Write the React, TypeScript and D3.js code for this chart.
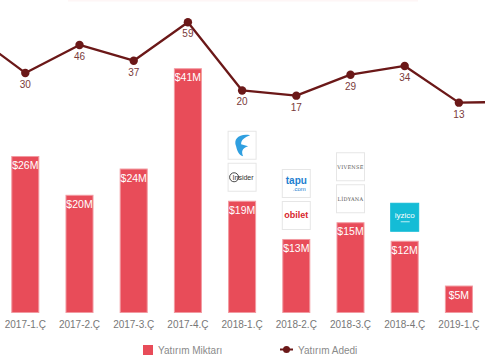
import React from "react";
import * as d3 from "d3";

const quarters = ["2017-1.Ç", "2017-2.Ç", "2017-3.Ç", "2017-4.Ç", "2018-1.Ç", "2018-2.Ç", "2018-3.Ç", "2018-4.Ç", "2019-1.Ç"];
const amounts = [26.3, 19.8, 24.2, 41.0, 18.8, 12.4, 15.2, 12.1, 4.6];
const amountLabels = ["$26M", "$20M", "$24M", "$41M", "$19M", "$13M", "$15M", "$12M", "$5M"];
const counts = [30, 46, 37, 59, 20, 17, 29, 34, 13];
// line continues beyond the visible area on both sides
const countBefore = 53;
const countAfter = 13.5;
const logos: { q: string; names: string[] }[] = [
  { q: "2018-1.Ç", names: ["F", "Insider"] },
  { q: "2018-2.Ç", names: ["tapu", "obilet"] },
  { q: "2018-3.Ç", names: ["VIVENSE", "LİDYANA"] },
  { q: "2018-4.Ç", names: ["iyzico"] },
];
const legendLabels = ["Yatırım Miktarı", "Yatırım Adedi"];

const W = 485;
const H = 360;
const FONT = "'Liberation Sans', Arial, Helvetica, sans-serif";
const BAR = "#e84c59";
const LINE = "#6b1818";

function Logo({ name, x, y, s }: { name: string; x: number; y: number; s: number }) {
  const cx = x + s / 2;
  const cy = y + s / 2;
  let content: React.ReactNode = null;
  let fill = "#fff";
  let stroke = "#e6e6e6";
  if (name === "F") {
    content = (
      <path
        d={`M${cx + 8},${cy - 10} C${cx - 3},${cy - 12} ${cx - 9},${cy - 6} ${cx - 6},${cy + 1} C${cx - 5},${cy + 6} ${cx - 3},${cy + 10} ${cx + 1},${cy + 11} C${cx - 1},${cy + 6} ${cx},${cy + 3} ${cx + 6},${cy + 1} L${cx - 1},${cy - 1} C${cx - 1},${cy - 6} ${cx + 3},${cy - 8} ${cx + 8},${cy - 10} Z`}
        fill="#2f9fe0"
      />
    );
  } else if (name === "Insider") {
    content = (
      <g>
        <circle cx={cx - 8} cy={cy} r={4.5} fill="none" stroke="#333" strokeWidth={0.9} />
        <text x={cx + 1} y={cy + 2.5} fontSize={7} fill="#333" textAnchor="middle" fontFamily={FONT}>
          Insider
        </text>
      </g>
    );
  } else if (name === "tapu") {
    content = (
      <g fontFamily={FONT}>
        <text x={cx} y={cy + 1} fontSize={10} fontWeight="bold" fill="#1e7fd0" textAnchor="middle">
          tapu
        </text>
        <text x={cx + 3} y={cy + 8} fontSize={6} fill="#1e7fd0" textAnchor="middle">
          .com
        </text>
      </g>
    );
  } else if (name === "obilet") {
    content = (
      <text x={cx} y={cy + 3} fontSize={9} fontWeight="bold" fill="#d8262d" textAnchor="middle" fontFamily={FONT}>
        obilet
      </text>
    );
  } else if (name === "VIVENSE" || name === "LİDYANA") {
    content = (
      <text x={cx} y={cy + 2} fontSize={5} fill="#555" textAnchor="middle" fontFamily="'DejaVu Serif', serif" letterSpacing={0.3}>
        {name}
      </text>
    );
  } else if (name === "iyzico") {
    fill = "#14bcd6";
    stroke = "#14bcd6";
    content = (
      <g fontFamily={FONT}>
        <text x={cx} y={cy + 1} fontSize={8} fill="#fff" textAnchor="middle">
          iyzico
        </text>
        <rect x={cx - 4} y={cy + 4} width={9} height={1} fill="#bdeef5" />
      </g>
    );
  }
  return (
    <g>
      <rect x={x + 0.5} y={y + 0.5} width={s - 1} height={s - 1} fill={fill} stroke={stroke} strokeWidth={1} />
      {content}
    </g>
  );
}

export default function App() {
  const x = d3.scaleBand<string>().domain(quarters).range([-1.8, 486]).paddingInner(0.483).paddingOuter(0.2415);
  const bw = x.bandwidth();
  const step = x.step();
  const cx = (q: string) => (x(q) as number) + bw / 2;
  const yBar = d3.scaleLinear().domain([0, 45]).range([313, 313 - 45 * 5.97]);
  const yLine = d3.scaleLinear().domain([0, 70]).range([125.4, 3]);

  const linePts: [number, number][] = [
    [cx(quarters[0]) - step, yLine(countBefore)],
    ...quarters.map((q, i) => [cx(q), yLine(counts[i])] as [number, number]),
    [cx(quarters[quarters.length - 1]) + step, yLine(countAfter)],
  ];
  const lineGen = d3.line();

  const box = 29;
  const gap = 3;

  return (
    <svg width={W} height={H} style={{ position: "absolute", left: 0, top: 0, display: "block" }} fontFamily={FONT}>
      <rect x={0} y={0} width={W} height={H} fill="#fff" />
      <rect x={68} y={0} width={350} height={1.5} fill="#fef6f6" />
      {quarters.map((q, i) => {
        const top = yBar(amounts[i]);
        return (
          <g key={q}>
            <rect x={x(q)! + 0.5} y={top + 0.5} width={bw - 1} height={yBar(0) - top - 1} fill={BAR} stroke="#f29aa1" strokeWidth={1} />
            <text x={cx(q)} y={top + 13} fontSize={10.5} fill="#fff" textAnchor="middle">
              {amountLabels[i]}
            </text>
            <text x={cx(q)} y={328} fontSize={10} fill="#777" textAnchor="middle">
              {q}
            </text>
          </g>
        );
      })}
      {logos.map((l) => {
        const i = quarters.indexOf(l.q);
        const top = yBar(amounts[i]);
        const bottom = top - 9;
        const n = l.names.length;
        return l.names.map((name, k) => {
          const yy = bottom - (n - k) * box - (n - 1 - k) * gap;
          return <Logo key={name} name={name} x={cx(l.q) - box / 2} y={yy} s={box} />;
        });
      })}
      <path d={lineGen(linePts) || ""} fill="none" stroke={LINE} strokeWidth={2.3} strokeLinejoin="round" />
      {quarters.map((q, i) => (
        <g key={"p" + q}>
          <circle cx={cx(q)} cy={yLine(counts[i])} r={4.2} fill={LINE} />
          <text x={cx(q)} y={yLine(counts[i]) + 15} fontSize={10} fill="#7a3a3a" textAnchor="middle">
            {counts[i]}
          </text>
        </g>
      ))}
      <g>
        <rect x={143} y={345} width={10} height={10} fill={BAR} />
        <text x={158} y={354} fontSize={10} fill="#8a8a8a">
          {legendLabels[0]}
        </text>
        <line x1={280} x2={293} y1={349.5} y2={349.5} stroke={LINE} strokeWidth={2} />
        <circle cx={286.5} cy={349.5} r={3.5} fill={LINE} />
        <text x={298} y={354} fontSize={10} fill="#8a8a8a">
          {legendLabels[1]}
        </text>
      </g>
    </svg>
  );
}
